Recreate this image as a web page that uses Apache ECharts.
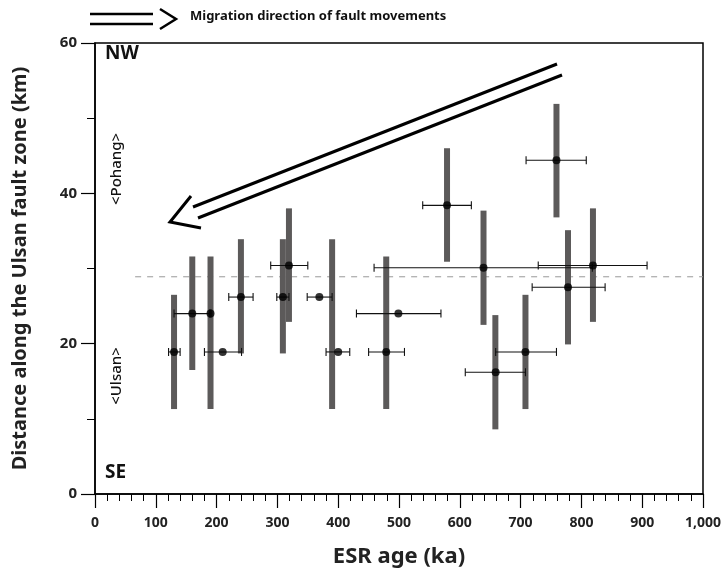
<!DOCTYPE html>
<html>
<head>
<meta charset="utf-8">
<script src="https://cdn.jsdelivr.net/npm/echarts@6/dist/echarts.min.js"></script>
<style>html,body{margin:0;padding:0;background:#fff}#c{width:726px;height:573px}</style>
</head>
<body>
<div id="c"></div>
<script>
// Vertical gray ranges (fault extent)
const rangeX    = [130, 160, 190, 240, 309, 319, 390, 479, 579, 639, 658.5, 708, 778, 819, 759];
const rangeLow  = [11.3, 16.5, 11.3, 18.7, 18.7, 22.9, 11.3, 11.3, 30.9, 22.5, 8.6, 11.3, 19.9, 22.9, 36.8];
const rangeHigh = [26.5, 31.6, 31.6, 33.9, 33.9, 38.0, 33.9, 31.6, 46.0, 37.7, 23.8, 26.5, 35.1, 38.0, 51.9];

// ESR ages with horizontal error
const ageX   = [130, 160, 190, 210, 240, 319, 309, 369, 400, 479, 499, 579, 639, 659, 708, 778, 819, 759];
const ageY   = [18.9, 24.0, 24.0, 18.9, 26.2, 30.4, 26.2, 26.2, 18.9, 18.9, 24.0, 38.4, 30.1, 16.2, 18.9, 27.5, 30.4, 44.4];
const ageLo  = [121, 130, 189, 180, 220, 289, 299, 349, 380, 450, 430, 539, 459, 609, 659, 719, 729, 709];
const ageHi  = [140, 189, 191, 241, 260, 350, 319, 390, 419, 509, 569, 619, 818, 708, 759, 839, 908, 808];

const refLineX = [66, 1000];
const refLineY = 28.9;

const xTicks = [0, 100, 200, 300, 400, 500, 600, 700, 800, 900, 1000];
const yTicks = [0, 20, 40, 60];

const rangeData = rangeX.map((x, i) => [x, rangeLow[i], rangeHigh[i]]);
const errData = ageX.map((x, i) => [ageLo[i], ageHi[i], ageY[i]]);
const ptData = ageX.map((x, i) => [x, ageY[i]]);

const chart = echarts.init(document.getElementById('c'));
const F = '"Noto Sans", "Open Sans", sans-serif';

chart.setOption({
  animation: false,
  grid: { left: 95, right: 23, top: 43, bottom: 78, show: true, borderColor: '#000', borderWidth: 1.5, backgroundColor: 'transparent' },
  xAxis: {
    type: 'value', min: 0, max: 1000, interval: 100,
    name: 'ESR age (ka)', nameLocation: 'middle', nameGap: 52,
    nameTextStyle: { fontFamily: F, fontWeight: 'bold', fontSize: 22, color: '#222' },
    axisLine: { show: true, lineStyle: { color: '#000', width: 1.5 } },
    axisTick: { show: true, length: 14, lineStyle: { color: '#000', width: 1.2 } },
    minorTick: { show: true, splitNumber: 5, length: 7, lineStyle: { color: '#000', width: 1 } },
    splitLine: { show: false },
    axisLabel: { fontFamily: F, fontWeight: 'bold', fontSize: 14, color: '#222', margin: 22,
      formatter: v => xTicks.includes(v) ? (v >= 1000 ? v.toLocaleString('en-US') : String(v)) : '' }
  },
  yAxis: {
    type: 'value', min: 0, max: 60, interval: 20,
    name: 'Distance along the Ulsan fault zone (km)', nameLocation: 'middle', nameGap: 65,
    nameTextStyle: { fontFamily: F, fontWeight: 'bold', fontSize: 20, color: '#222' },
    axisLine: { show: true, lineStyle: { color: '#000', width: 1.5 } },
    axisTick: { show: true, length: 14, lineStyle: { color: '#000', width: 1.2 } },
    minorTick: { show: true, splitNumber: 2, length: 8, lineStyle: { color: '#000', width: 1 } },
    splitLine: { show: false },
    axisLabel: { fontFamily: F, fontWeight: 'bold', fontSize: 15, color: '#222', margin: 18,
      formatter: v => yTicks.includes(v) ? String(v) : '' }
  },
  series: [
    {
      type: 'line', data: refLineX.map(x => [x, refLineY]), symbol: 'none', silent: true,
      lineStyle: { color: '#999', width: 1, type: [6, 6] }, z: 1
    },
    {
      type: 'custom', data: rangeData, z: 2,
      renderItem: (params, api) => {
        const a = api.coord([api.value(0), api.value(1)]);
        const b = api.coord([api.value(0), api.value(2)]);
        return { type: 'rect', shape: { x: a[0] - 3, y: b[1], width: 6, height: a[1] - b[1] }, style: { fill: '#5c5a5a' } };
      }
    },
    {
      type: 'custom', data: errData, z: 3,
      renderItem: (params, api) => {
        const a = api.coord([api.value(0), api.value(2)]);
        const b = api.coord([api.value(1), api.value(2)]);
        const st = { stroke: '#111', lineWidth: 1.1 };
        return { type: 'group', children: [
          { type: 'line', shape: { x1: a[0], y1: a[1], x2: b[0], y2: b[1] }, style: st },
          { type: 'line', shape: { x1: a[0], y1: a[1] - 4, x2: a[0], y2: a[1] + 4 }, style: st },
          { type: 'line', shape: { x1: b[0], y1: b[1] - 4, x2: b[0], y2: b[1] + 4 }, style: st }
        ]};
      }
    },
    {
      type: 'scatter', data: ptData, symbol: 'circle', symbolSize: 8, z: 4,
      itemStyle: { color: '#000' }
    }
  ],
  graphic: [
    // legend arrow
    { type: 'line', shape: { x1: 90, y1: 14, x2: 153, y2: 14 }, style: { stroke: '#000', lineWidth: 2.5 } },
    { type: 'line', shape: { x1: 90, y1: 24, x2: 153, y2: 24 }, style: { stroke: '#000', lineWidth: 2.5 } },
    { type: 'polyline', shape: { points: [[160, 9], [176, 19], [160, 29]] }, style: { stroke: '#000', lineWidth: 2.5, fill: null } },
    { type: 'text', left: 190, top: 10, style: { text: 'Migration direction of fault movements', fontFamily: F, fontWeight: 'bold', fontSize: 13, fill: '#111' } },
    // migration arrow
    { type: 'line', shape: { x1: 557, y1: 64, x2: 193, y2: 207 }, style: { stroke: '#000', lineWidth: 3 } },
    { type: 'line', shape: { x1: 562, y1: 75, x2: 198, y2: 218 }, style: { stroke: '#000', lineWidth: 3 } },
    { type: 'polyline', shape: { points: [[191, 196], [170, 222], [201, 228]] }, style: { stroke: '#000', lineWidth: 3, fill: null } },
    // labels
    { type: 'text', left: 105, top: 44, style: { text: 'NW', fontFamily: F, fontWeight: 'bold', fontSize: 19, fill: '#111' } },
    { type: 'text', left: 105, top: 463, style: { text: 'SE', fontFamily: F, fontWeight: 'bold', fontSize: 19, fill: '#111' } },
    { type: 'text', x: 117, y: 169, rotation: Math.PI / 2, style: { text: '<Pohang>', fontFamily: F, fontWeight: 500, fontSize: 15, fill: '#111', align: 'center', verticalAlign: 'middle' } },
    { type: 'text', x: 117, y: 376, rotation: Math.PI / 2, style: { text: '<Ulsan>', fontFamily: F, fontWeight: 500, fontSize: 15, fill: '#111', align: 'center', verticalAlign: 'middle' } }
  ]
});
</script>
</body>
</html>
